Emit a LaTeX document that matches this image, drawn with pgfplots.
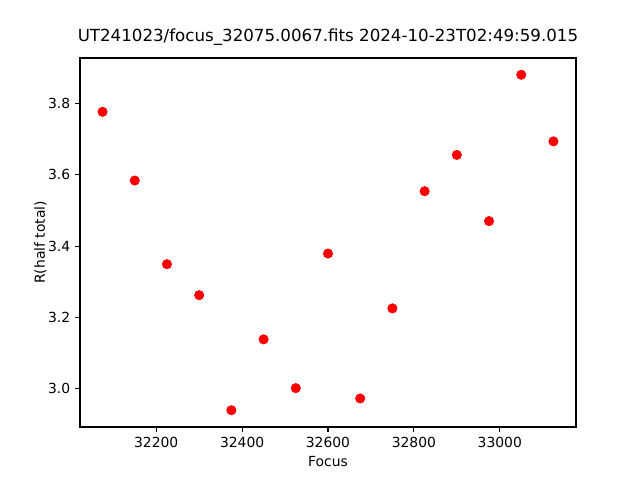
\documentclass[border=0pt]{standalone}
\usepackage{pgfplots}
\pgfplotsset{compat=1.18}
\usepackage{fontspec}
\setmainfont{DejaVu Sans}
\begin{document}
\begin{tikzpicture}[x=1pt,y=1pt]
\path[use as bounding box] (0,0) rectangle (460.8,345.6);
\begin{axis}[
  at={(57.6pt,38.16pt)}, anchor=south west,
  scale only axis, width=357.12pt, height=265.68pt,
  xmin=32022.5, xmax=33177.5, ymin=2.8919, ymax=3.9281,
  xtick={32200,32400,32600,32800,33000},
  ytick={3.0,3.2,3.4,3.6,3.8},
  scaled x ticks=false, scaled y ticks=false,
  tick align=outside, xtick pos=bottom, ytick pos=left,
  major tick length=3.5pt,
  every tick/.style={black, line width=0.8pt},
  axis line style={line width=0.8pt},
  tick label style={font=\fontsize{10}{12}\selectfont},
  /pgf/number format/assume math mode=true,
  xticklabel style={/pgf/number format/.cd, fixed, precision=0, 1000 sep={}},
  yticklabel style={/pgf/number format/.cd, fixed, fixed zerofill, precision=1},
  xlabel={Focus}, ylabel={R(half total)},
  label style={font=\fontsize{10}{12}\selectfont},
  xlabel style={at={(axis description cs:0.5,-0.1076)}, anchor=base},
  ylabel style={at={(axis description cs:-0.0706,0.5)}, anchor=base},
  title={UT241023/focus\_32075.0067.fits 2024-10-23T02:49:59.015},
  title style={font=\fontsize{12}{14}\selectfont, at={(axis description cs:0.5,1.0226)}, anchor=base},
]
\addplot[only marks, mark=*, mark size=3.4pt, color=red, mark options={draw=red, fill=red}] coordinates {
(32075,3.777) (32150,3.584) (32225,3.349) (32300,3.262) (32375,2.939)
(32450,3.138) (32525,3.001) (32600,3.379) (32675,2.972) (32750,3.225)
(32825,3.554) (32900,3.656) (32975,3.470) (33050,3.881) (33125,3.694)
};
\end{axis}
\end{tikzpicture}
\end{document}
